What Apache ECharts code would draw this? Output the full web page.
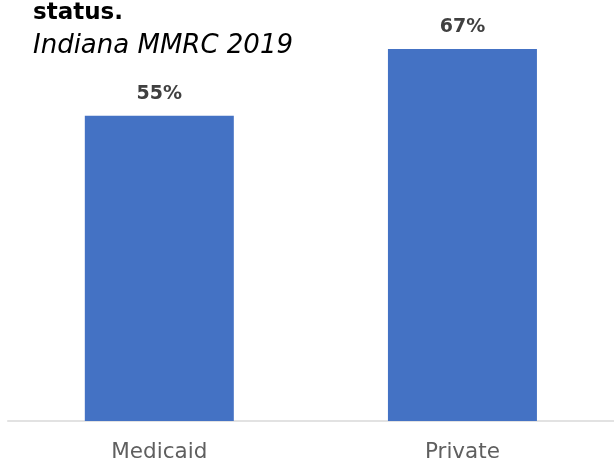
<!DOCTYPE html>
<html>
<head>
<meta charset="utf-8">
<style>
  html, body { margin: 0; padding: 0; background: #ffffff; }
  #chart { width: 614px; height: 464px; }
</style>
<script src="https://cdn.jsdelivr.net/npm/echarts@6/dist/echarts.min.js"></script>
</head>
<body>
<div id="chart"></div>
<script>
// Share of deaths by insurance status
const categories = ['Medicaid', 'Private'];
const values = [55, 67];
const titleText = 'status.';
const subtitleText = 'Indiana MMRC 2019';

const FONT = '"DejaVu Sans", sans-serif';

const chart = echarts.init(document.getElementById('chart'), null, { renderer: 'canvas' });

chart.setOption({
  animation: false,
  backgroundColor: '#ffffff',
  title: [
    {
      text: titleText,
      left: 28,
      top: -3,
      textStyle: { fontFamily: FONT, fontWeight: 'bold', fontSize: 23, color: '#000000' }
    },
    {
      text: subtitleText,
      left: 28,
      top: 28,
      textStyle: { fontFamily: FONT, fontStyle: 'italic', fontWeight: 'normal', fontSize: 26, color: '#000000' }
    }
  ],
  grid: { left: 7.75, right: -2.75, top: 32.4, bottom: 43, containLabel: false },
  xAxis: {
    type: 'category',
    data: categories,
    axisLine: { show: true, lineStyle: { color: '#d9d9d9', width: 1.5 } },
    axisTick: { show: false },
    axisLabel: { fontFamily: FONT, fontSize: 21.5, color: '#5f5f5f', margin: 20 }
  },
  yAxis: {
    type: 'value',
    min: 0,
    max: 70,
    show: false,
    splitLine: { show: false }
  },
  series: [
    {
      type: 'bar',
      data: values,
      barWidth: 149,
      itemStyle: { color: '#4472c4' },
      label: {
        show: true,
        position: 'top',
        distance: 12,
        formatter: '{c}%',
        fontFamily: FONT,
        fontWeight: 'bold',
        fontSize: 19,
        color: '#404040'
      }
    }
  ]
});
</script>
</body>
</html>
